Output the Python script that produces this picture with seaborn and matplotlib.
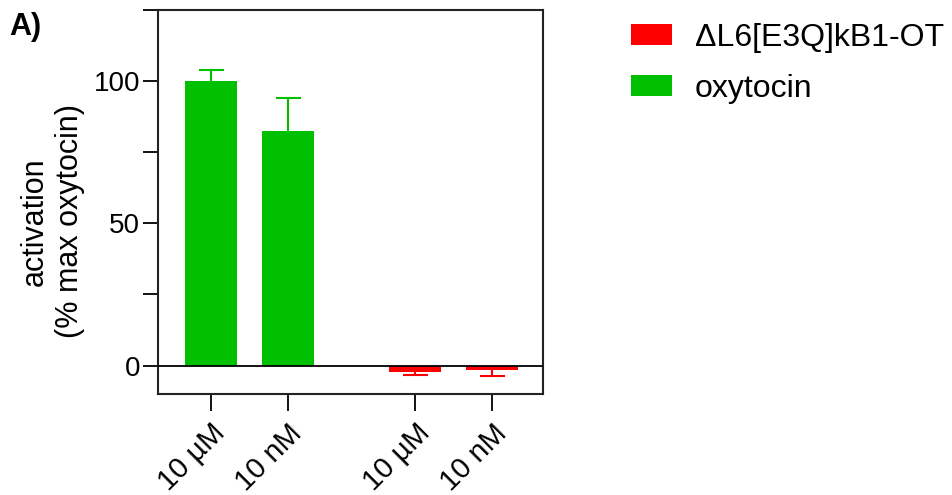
import numpy as np
import pandas as pd
import matplotlib
matplotlib.use("Agg")
import matplotlib.pyplot as plt
import matplotlib.transforms as mtransforms
import seaborn as sns
from matplotlib.patches import Patch

# ---- data ----
groups = ["oxytocin", "oxytocin", "ΔL6[E3Q]kB1-OT", "ΔL6[E3Q]kB1-OT"]
conc_labels = ["10 µM", "10 nM", "10 µM", "10 nM"]
means = [100.0, 82.3, -2.35, -1.4]
errs = [3.8, 11.6, 1.1, 2.4]
legend_order = ["ΔL6[E3Q]kB1-OT", "oxytocin"]
colors = {"oxytocin": "#00C000", "ΔL6[E3Q]kB1-OT": "#FF0000"}
yticks = [0, 50, 100]
yminor = [25, 75, 125]

# layout: position = index + gap * group index
group_gap = 0.66
group_idx = [0, 0, 1, 1]
pos = [i + group_gap * g for i, g in enumerate(group_idx)]

df = pd.DataFrame({"pos": pos, "group": groups, "value": means, "conc": conc_labels})

sns.set_theme(style="ticks")
plt.rcParams["font.family"] = ["Liberation Sans", "DejaVu Sans"]
plt.rcParams["font.size"] = 20
plt.rcParams["text.color"] = "black"
plt.rcParams["axes.labelcolor"] = "black"
plt.rcParams["xtick.color"] = "black"
plt.rcParams["ytick.color"] = "black"

fig = plt.figure(figsize=(9.53, 4.95), dpi=100)
ax = fig.add_axes([158/953, 1-394/495, (543-158)/953, (394-10)/495])

sns.barplot(data=df, x="pos", y="value", hue="group", palette=colors,
            native_scale=True, dodge=False, width=0.675, errorbar=None,
            saturation=1, legend=False, ax=ax, edgecolor="none")

for p, m, e, g in zip(pos, means, errs, groups):
    yerr = [[0], [e]] if m >= 0 else [[e], [0]]
    _, caps, _ = ax.errorbar([p], [m], yerr=yerr, fmt="none", ecolor=colors[g],
                             elinewidth=1.5, capsize=9, capthick=1.5)
    # hide the cap sitting on the bar end (one-sided error bar)
    if m >= 0:
        caps[0].set_visible(False)
    else:
        caps[1].set_visible(False)

ax.axhline(0, color="black", lw=1.3, zorder=5)
ax.set_ylim(-10, 125)
ax.set_xlim(pos[0] - 0.69, pos[-1] + 0.66)
ax.set_yticks(yticks)
ax.set_yticks(yminor, minor=True)
ax.set_xticks(pos)
ax.set_xticklabels(conc_labels, rotation=45, ha="right", va="top",
                   rotation_mode="anchor", fontsize=21)
offset = mtransforms.ScaledTranslation(-4/100, 2/100, fig.dpi_scale_trans)
for lab in ax.get_xticklabels():
    lab.set_transform(lab.get_transform() + offset)
ax.tick_params(axis="y", which="major", length=11, width=1.3, labelsize=20, pad=2)
ax.tick_params(axis="y", which="minor", length=11, width=1.3)
ax.tick_params(axis="x", length=12, width=1.3, pad=6)
for s in ax.spines.values():
    s.set_linewidth(1.5)
    s.set_color("#222222")
ax.set_xlabel("")
ax.set_ylabel("activation\n(% max oxytocin)", fontsize=22, linespacing=1.2)
ax.yaxis.set_label_coords(-0.19, 0.45)

handles = [Patch(facecolor=colors[k], edgecolor="none") for k in legend_order]
fig.legend(handles, legend_order, loc="upper left", bbox_to_anchor=(618/953, 1-10/495),
           frameon=False, fontsize=23, handlelength=1.28, handleheight=0.63,
           handletextpad=0.72, labelspacing=0.67, borderaxespad=0)

fig.text(9/953, 1-35/495, "A)", fontsize=22, fontweight="bold", va="baseline")

fig.savefig("out.png", dpi=100)
